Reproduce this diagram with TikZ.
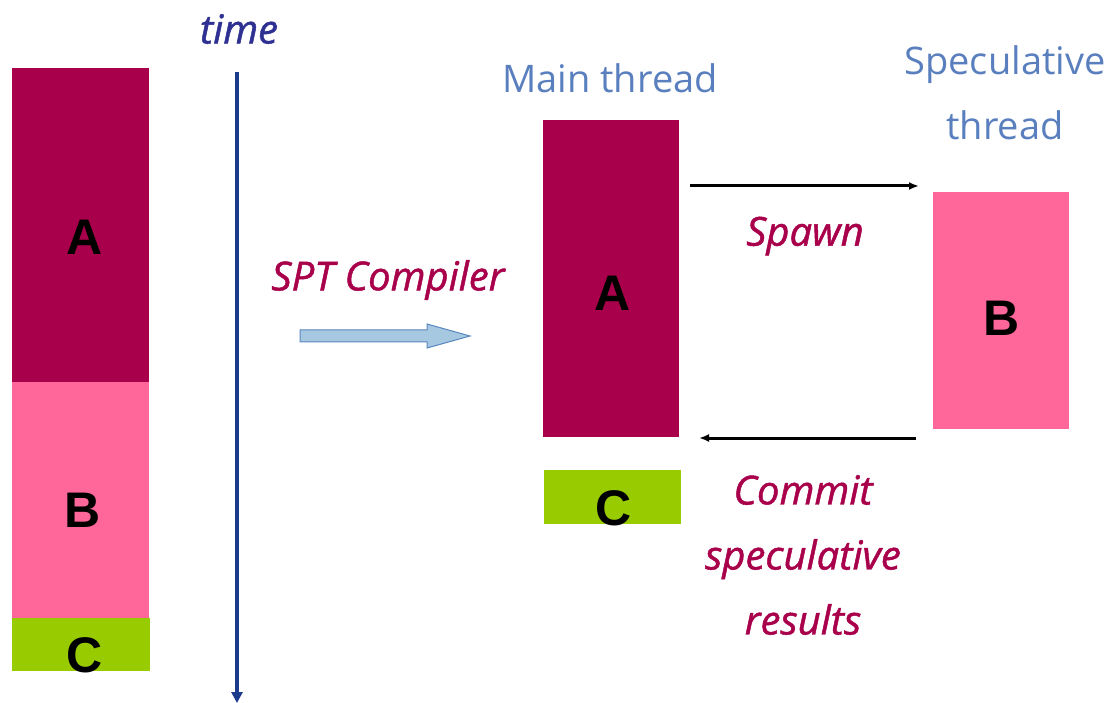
\documentclass[tikz,border=0pt]{standalone}
\usepackage{fontspec}
\setmainfont{Liberation Sans}
\newfontfamily\capfont{Open Sans}
\newfontfamily\notefont{Open Sans}[FakeBold=1.2]
\usetikzlibrary{arrows.meta}
\definecolor{darkmag}{HTML}{A8004A}
\definecolor{pinkblk}{HTML}{FF6699}
\definecolor{limeblk}{HTML}{99CC00}
\definecolor{headblue}{HTML}{5A7FBE}
\definecolor{timeblue}{HTML}{2E3192}
\definecolor{axisblue}{HTML}{1C3A8C}
\definecolor{arrfill}{HTML}{A6C8E0}
\definecolor{arredge}{HTML}{5A86C0}
\tikzset{
  blk/.style={draw=none, inner sep=0pt, font=\fontsize{50}{50}\selectfont\bfseries},
  heading/.style={text=headblue, font=\capfont\fontsize{38}{65}\selectfont, align=center},
  note/.style={text=darkmag, font=\notefont\itshape\fontsize{40}{65}\selectfont, align=center},
  link/.style={line width=3pt, -{Latex[length=10pt,width=8pt]}}
}
\begin{document}
\begin{tikzpicture}[x=1pt,y=-1pt]
\useasboundingbox (0,0) rectangle (1109,703);
% sequential program
\fill[darkmag] (12,68) rectangle (149,382);
\fill[pinkblk] (12,382) rectangle (149,618);
\fill[limeblk] (12,618) rectangle (150,671);
\node[blk] (sa) at (85,237) {A};
\node[blk] (sb) at (83,510) {B};
\node[blk] (sc) at (85,655) {C};
% time axis
\node[text=timeblue, font=\notefont\itshape\fontsize{40}{40}\selectfont] (timelbl) at (239,29) {time};
\coordinate (ttop) at (237,72);
\coordinate (tbot) at (237,703);
\draw[axisblue, line width=3.2pt, -{Triangle[length=11pt,width=11pt]}] (ttop) -- (tbot);
% compiler transform
\node[note] (spt) at (388,280) {SPT Compiler};
\draw[draw=arredge, fill=arrfill, line width=1pt, line join=miter]
  (300,330) -- (427,330) -- (427,324) -- (470,336) -- (427,348) -- (427,342) -- (300,342) -- cycle;
% main thread
\node[heading] (mainh) at (610,78) {Main thread};
\fill[darkmag] (543,120) rectangle (679,437);
\node[blk] (ma) at (613,293) {A};
\fill[limeblk] (544,470) rectangle (681,524);
\node[blk] (mc) at (614,508) {C};
% speculative thread
\node[heading] (spech) at (1005,93) {Speculative\\thread};
\fill[pinkblk] (933,192) rectangle (1069,429);
\node[blk] (sb2) at (1002,318) {B};
% spawn / commit
\coordinate (sp1) at (690,186);
\coordinate (sp2) at (919,186);
\draw[link] (sp1) -- (sp2);
\node[note] (spawn) at (805,236) {Spawn};
\coordinate (cm1) at (916,438);
\coordinate (cm2) at (699,438);
\draw[link] (cm1) -- (cm2);
\node[note] (commit) at (803,555) {Commit\\speculative\\results};
\end{tikzpicture}
\end{document}
